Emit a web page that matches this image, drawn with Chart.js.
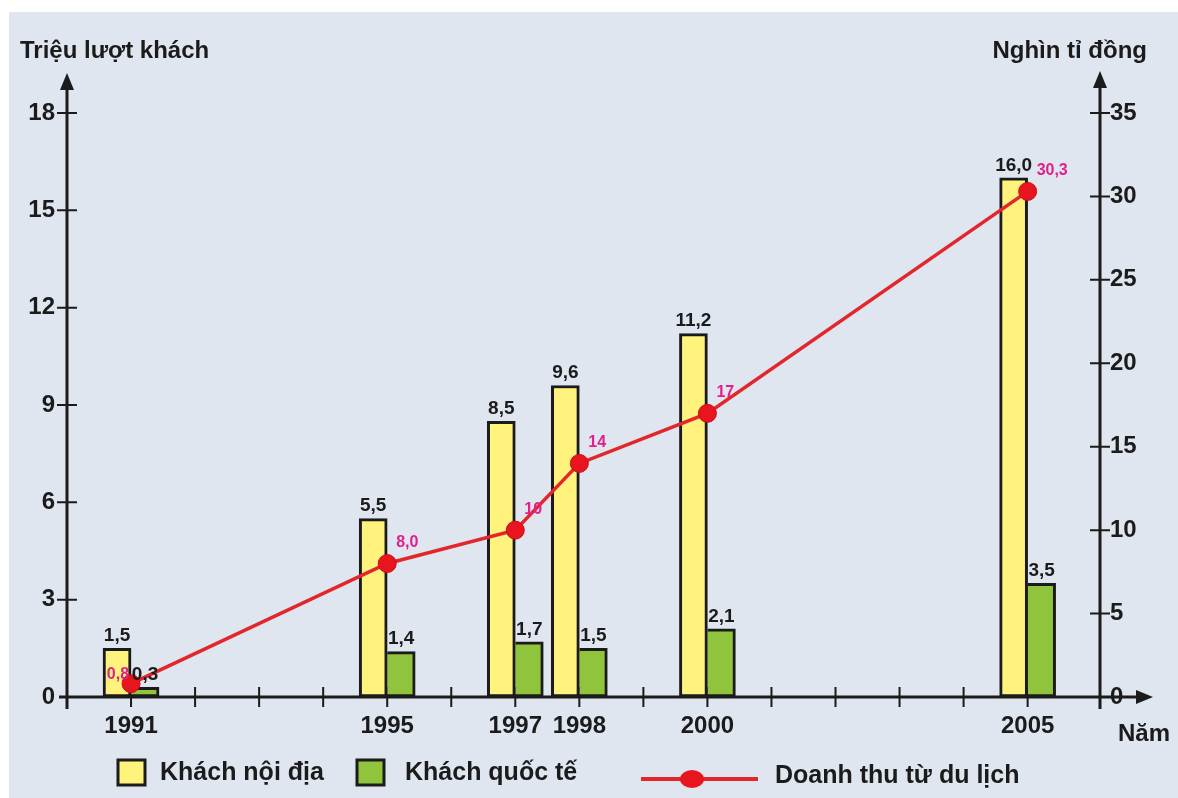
<!DOCTYPE html>
<html lang="vi">
<head>
<meta charset="UTF-8" />
<title>Khách du lịch và doanh thu từ du lịch</title>
<style>
  html, body { margin: 0; padding: 0; background: #fff; }
  #wrap { width: 1178px; height: 798px; }
</style>
</head>
<body>
<div id="wrap"><canvas id="myChart" width="1178" height="798"></canvas></div>
<script src="https://cdn.jsdelivr.net/npm/chart.js"></script>
<script>
  // data
  const years = [1991, 1995, 1997, 1998, 2000, 2005];
  const domestic = [1.5, 5.5, 8.5, 9.6, 11.2, 16.0];      // triệu lượt khách
  const international = [0.3, 1.4, 1.7, 1.5, 2.1, 3.5];  // triệu lượt khách
  const revenue = [0.8, 8.0, 10, 14, 17, 30.3];           // nghìn tỉ đồng
  const revenueLabels = ["0,8", "8,0", "10", "14", "17", "30,3"];
  const leftTicks = [0, 3, 6, 9, 12, 15, 18];
  const rightTicks = [0, 5, 10, 15, 20, 25, 30, 35];

  const FONT = "'Liberation Sans', Arial, sans-serif";
  const INK = "#1b1b1b";
  const BG = "#dfe6ef";
  const YELLOW = "#fff37e";
  const GREEN = "#8fc43c";
  const RED = "#e3262b";
  const PINK = "#e2208c";

  const fmt = (v) => v.toFixed(1).replace(".", ",");
  const pts = (arr) => arr.map((v, i) => ({ x: years[i], y: v }));

  const canvas = document.getElementById("myChart");
  const ctx = canvas.getContext("2d");

  const background = {
    id: "background",
    beforeDraw: (chart) => {
      const c = chart.ctx;
      c.save();
      c.fillStyle = "#fff";
      c.fillRect(0, 0, chart.width, chart.height);
      c.fillStyle = BG;
      c.fillRect(9, 12, chart.width - 9, chart.height - 12);
      c.restore();
    },
  };

  function arrow(c, x, y, dir) {
    c.beginPath();
    if (dir === "up") {
      c.moveTo(x, y);
      c.lineTo(x - 7, y + 17);
      c.lineTo(x + 7, y + 17);
    } else {
      c.moveTo(x, y);
      c.lineTo(x - 17, y - 7);
      c.lineTo(x - 17, y + 7);
    }
    c.closePath();
    c.fill();
  }

  // axes drawn by hand: crossing ticks and arrow heads
  const axes = {
    id: "axes",
    beforeDatasetsDraw: (chart) => {
      const c = chart.ctx;
      const { left, right, top, bottom } = chart.chartArea;
      const xs = chart.scales.x, yl = chart.scales.y, yr = chart.scales.y1;
      c.save();
      c.strokeStyle = INK;
      c.fillStyle = INK;
      c.lineWidth = 3;
      c.beginPath();
      c.moveTo(left, top - 30); c.lineTo(left, bottom + 12);
      c.moveTo(right, top - 30); c.lineTo(right, bottom + 12);
      c.moveTo(left - 8, bottom); c.lineTo(right + 40, bottom);
      c.stroke();
      arrow(c, left, top - 40, "up");
      arrow(c, right, top - 42, "up");
      arrow(c, right + 53, bottom, "right");

      c.lineWidth = 2;
      c.beginPath();
      leftTicks.forEach((v) => {
        if (v === 0) return;
        const y = yl.getPixelForValue(v);
        c.moveTo(left - 10, y); c.lineTo(left + 10, y);
      });
      rightTicks.forEach((v) => {
        if (v === 0) return;
        const y = yr.getPixelForValue(v);
        c.moveTo(right - 10, y); c.lineTo(right + 10, y);
      });
      for (let yr2 = years[0]; yr2 <= years[years.length - 1]; yr2++) {
        const x = xs.getPixelForValue(yr2);
        c.moveTo(x, bottom - 10); c.lineTo(x, bottom + 10);
      }
      c.stroke();

      c.font = "bold 24px " + FONT;
      c.textBaseline = "alphabetic";
      c.textAlign = "left";
      c.fillText("Triệu lượt khách", left - 47, 58);
      c.textAlign = "right";
      c.fillText("Nghìn tỉ đồng", right + 47, 58);
      c.textAlign = "left";
      c.fillText("Năm", right + 18, bottom + 44);
      c.restore();
    },
  };

  // value labels above the bars and beside the markers
  const valueLabels = {
    id: "valueLabels",
    afterDatasetsDraw: (chart) => {
      const c = chart.ctx;
      c.save();
      c.textBaseline = "bottom";
      c.textAlign = "center";
      c.fillStyle = INK;
      c.font = "bold 19px " + FONT;
      [0, 1].forEach((di) => {
        const ds = chart.data.datasets[di];
        chart.getDatasetMeta(di).data.forEach((el, i) => {
          c.fillText(fmt(ds.data[i].y), el.x, el.y - 3);
        });
      });
      c.fillStyle = PINK;
      c.font = "bold 16px " + FONT;
      chart.getDatasetMeta(2).data.forEach((el, i) => {
        if (i === 0) {
          c.textAlign = "right";
          c.fillText(revenueLabels[i], el.x - 2, el.y - 1);
        } else {
          c.textAlign = "left";
          c.fillText(revenueLabels[i], el.x + 9, el.y - 13);
        }
      });
      c.restore();
    },
  };

  const legendBox = {
    id: "legendBox",
    afterDraw: (chart) => {
      const c = chart.ctx;
      const ds = chart.data.datasets;
      c.save();
      c.lineWidth = 3;
      c.strokeStyle = INK;
      c.font = "bold 25px " + FONT;
      c.textBaseline = "middle";
      c.textAlign = "left";
      [[118, 160], [357, 405]].forEach(([bx, tx], i) => {
        c.fillStyle = ds[i].backgroundColor;
        c.fillRect(bx, 760, 27, 25);
        c.strokeRect(bx, 760, 27, 25);
        c.fillStyle = INK;
        c.fillText(ds[i].label, tx, 773);
      });
      c.strokeStyle = ds[2].borderColor;
      c.lineWidth = 4;
      c.beginPath();
      c.moveTo(641, 779); c.lineTo(758, 779);
      c.stroke();
      c.fillStyle = ds[2].pointBackgroundColor;
      c.beginPath();
      c.ellipse(692, 779, 12, 9, 0, 0, Math.PI * 2);
      c.fill();
      c.fillStyle = INK;
      c.fillText(ds[2].label, 775, 776);
      c.restore();
    },
  };

  const myChart = new Chart(ctx, {
    type: "bar",
    plugins: [background, axes, valueLabels, legendBox],
    data: {
      datasets: [
        {
          label: "Khách nội địa",
          data: pts(domestic),
          backgroundColor: YELLOW,
          borderColor: INK,
          borderWidth: 3,
          borderSkipped: false,
          barThickness: 28,
          yAxisID: "y",
          order: 1,
        },
        {
          label: "Khách quốc tế",
          data: pts(international),
          backgroundColor: GREEN,
          borderColor: INK,
          borderWidth: { top: 3, right: 3, bottom: 3, left: 0 },
          borderSkipped: false,
          barThickness: 28,
          yAxisID: "y",
          order: 1,
        },
        {
          type: "line",
          label: "Doanh thu từ du lịch",
          data: pts(revenue),
          borderColor: RED,
          borderWidth: 3.5,
          pointRadius: 9,
          pointBackgroundColor: "#e8141e",
          pointBorderColor: "#c7121b",
          pointBorderWidth: 1,
          yAxisID: "y1",
          order: 0,
        },
      ],
    },
    options: {
      responsive: false,
      animation: false,
      events: [],
      layout: { padding: { top: 113, bottom: 51, left: 0, right: 0 } },
      plugins: {
        legend: { display: false },
        tooltip: { enabled: false },
      },
      scales: {
        x: {
          type: "linear",
          min: 1990,
          max: 2006.13,
          offset: false,
          grid: { display: false, drawTicks: false },
          border: { display: false },
          afterFit: (s) => { s.height = 50; },
          ticks: {
            stepSize: 1,
            autoSkip: false,
            maxRotation: 0,
            padding: 15,
            color: INK,
            font: { family: FONT, size: 24, weight: "bold" },
            callback: (v) => (years.includes(v) ? String(v) : ""),
          },
        },
        y: {
          position: "left",
          min: 0,
          max: leftTicks[leftTicks.length - 1],
          grid: { display: false, drawTicks: false },
          border: { display: false },
          afterFit: (s) => { s.width = 67; },
          afterBuildTicks: (s) => { s.ticks = leftTicks.map((v) => ({ value: v })); },
          ticks: {
            padding: 12,
            color: INK,
            font: { family: FONT, size: 24, weight: "bold" },
          },
        },
        y1: {
          position: "right",
          min: 0,
          max: rightTicks[rightTicks.length - 1],
          grid: { display: false, drawTicks: false },
          border: { display: false },
          afterFit: (s) => { s.width = 78; },
          afterBuildTicks: (s) => { s.ticks = rightTicks.map((v) => ({ value: v })); },
          ticks: {
            padding: 10,
            color: INK,
            font: { family: FONT, size: 24, weight: "bold" },
          },
        },
      },
    },
  });
</script>
</body>
</html>
